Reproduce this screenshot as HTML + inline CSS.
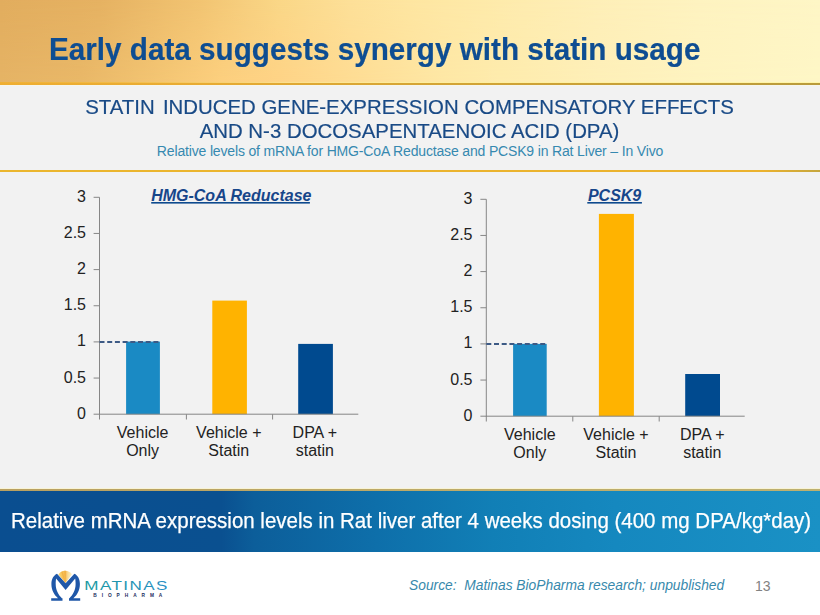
<!DOCTYPE html>
<html>
<head>
<meta charset="utf-8">
<style>
  html, body { margin: 0; padding: 0; }
  body { width: 820px; height: 615px; position: relative; overflow: hidden; background: #ffffff; font-family: "Liberation Sans", sans-serif; }
  .abs { position: absolute; }
  #header { left: 0; top: 0; width: 820px; height: 83px;
    background: linear-gradient(to right, #E2AD5E 0%, #E6B262 12.2%, #F2C472 24.4%, #FAD787 34%, #FDE098 42.7%, #FEE6A1 50%, #FEEBAC 61%, #FEEFB8 73%, #FEF3C0 85%, #FEF6C6 100%); }
  #hline { left: 0; top: 83px; width: 820px; height: 2px; background: linear-gradient(to right, #EFAE32 0%, #E8AB33 25%, #D6A535 50%, #C8A038 75%, #B99B3C 100%); }
  #hover { left: 0; top: 0; width: 820px; height: 83px; background: linear-gradient(to right, #E5B365 0%, #E9B868 10%, #F4C674 20%, #FCCF7E 27%, #FED386 34%, #FEDD95 44%, #FEE7A5 54%, #FEEBAC 61%, #FEEFB8 73%, #FEF3C0 85%, #FEF6C6 100%); -webkit-mask-image: linear-gradient(to bottom, transparent 0%, black 100%); mask-image: linear-gradient(to bottom, transparent 0%, black 100%); }
  #hglow { left: 0; top: 82px; width: 820px; height: 1px; background: linear-gradient(to right, #EFB035 0%, #F2BC4A 15%, #FBE090 35%, #FDEE9E 50%, #FFF6A8 100%); }
  #hsub { left: 0; top: 85px; width: 820px; height: 1px; background: #F6F5EC; }
  #band { left: 0; top: 85px; width: 820px; height: 404px; background: #F2F2F2; }
  #mline { left: 0; top: 170px; width: 820px; height: 2px; background: linear-gradient(to right, #EBB62E 0%, #EBB22E 93%, #C5A63E 100%); }
  #gglow { left: 0; top: 488px; width: 820px; height: 1px; background: #F8F3D6; }
  #gline { left: 0; top: 489px; width: 820px; height: 2px; background: linear-gradient(to right, #B9A060 0%, #BDAA68 50%, #BDB070 100%); }
  #bluebar { left: 0; top: 491px; width: 820px; height: 61px;
    background: linear-gradient(to right, #0A4E90 0%, #0A5090 27%, #0C5E9A 31%, #0E6FAA 46%, #117FB6 60%, #1588BF 75%, #1A91C5 100%); }
  .t { position: absolute; white-space: pre; line-height: 1; }
  #title { left: 49.3px; top: 33.8px; font-size: 30.6px; font-weight: bold; color: #0E4D92; transform: scaleX(0.97); transform-origin: 0 0; -webkit-text-stroke: 0.2px #0E4D92; }
  .sub { left: 0; width: 819px; text-align: center; color: #194A86; font-size: 21.1px; transform: scaleX(0.967); transform-origin: 409.5px 0; -webkit-text-stroke: 0.2px #194A86; }
  #sub1 { top: 95.7px; }
  #sub2 { top: 120.3px; }
  #sub3 { left: 0; width: 820px; text-align: center; top: 144.4px; font-size: 14px; letter-spacing: -0.16px; color: #3689B0; }
  #bartext { left: 10.5px; top: 510.9px; font-size: 21.3px; color: #ffffff; transform: scaleX(0.962); transform-origin: 0 0; -webkit-text-stroke: 0.25px #ffffff; }
  #source { left: 409px; top: 579.2px; font-size: 13.8px; font-style: italic; color: #3889AC; }
  #pnum { left: 755px; top: 578.6px; font-size: 14px; color: #828282; }
</style>
</head>
<body>
<div id="header" class="abs"></div>
<div id="hover" class="abs"></div>
<div id="hglow" class="abs"></div>
<div id="hline" class="abs"></div>
<div id="band" class="abs"></div>
<div id="hsub" class="abs"></div>
<div id="mline" class="abs"></div>
<div id="gglow" class="abs"></div>
<div id="gline" class="abs"></div>
<div id="bluebar" class="abs"></div>

<div id="title" class="t">Early data suggests synergy with statin usage</div>
<div id="sub1" class="t sub">STATIN<span style="display:inline-block;width:2.6px"></span> INDUCED GENE-EXPRESSION COMPENSATORY EFFECTS</div>
<div id="sub2" class="t sub">AND N-3 DOCOSAPENTAENOIC ACID (DPA)</div>
<div id="sub3" class="t">Relative levels of mRNA for HMG-CoA Reductase and PCSK9 in Rat Liver – In Vivo</div>

<svg class="abs" style="left:0;top:0" width="820" height="615" viewBox="0 0 820 615">
  <g font-family="Liberation Sans, sans-serif">
  <!-- LEFT CHART -->
  <g id="chartL">
    <text x="231.3" y="200.6" font-size="16" font-weight="bold" font-style="italic" fill="#17468A" text-anchor="middle">HMG-CoA Reductase</text>
    <rect x="151.2" y="202" width="158.7" height="1.6" fill="#0E4A8E"/>
    <g fill="#222222" font-size="16" text-anchor="end">
      <text x="86" y="418.7">0</text>
      <text x="86" y="382.6">0.5</text>
      <text x="86" y="346.4">1</text>
      <text x="86" y="310.3">1.5</text>
      <text x="86" y="274.1">2</text>
      <text x="86" y="238">2.5</text>
      <text x="86" y="201.8">3</text>
    </g>
    <rect x="126.1" y="341.6" width="33.8" height="72.6" fill="#1A8AC4"/>
    <rect x="212.3" y="300.6" width="34.6" height="113.6" fill="#FFB300"/>
    <rect x="298.2" y="343.9" width="34.7" height="70.3" fill="#004A8F"/>
    <g stroke="#868686" stroke-width="1" fill="none">
      <path d="M99.5 197.3 V414.7"/>
      <path d="M99 414.2 H358.3"/>
      <path d="M93.6 414.2 H99.5 M93.6 378.05 H99.5 M93.6 341.9 H99.5 M93.6 305.75 H99.5 M93.6 269.6 H99.5 M93.6 233.45 H99.5 M93.6 197.3 H99.5"/>
      <path d="M99.5 414.2 V419.5 M186.4 414.2 V419.5 M272.6 414.2 V419.5"/>
    </g>
    <path d="M99.5 342.1 H159.7" stroke="#3D5A85" stroke-width="2" stroke-dasharray="5 2.7" fill="none"/>
    <g fill="#222222" font-size="16" text-anchor="middle">
      <text x="142.6" y="437.8">Vehicle</text><text x="142.6" y="455.6">Only</text>
      <text x="228.8" y="437.8">Vehicle +</text><text x="228.8" y="455.6">Statin</text>
      <text x="314.9" y="437.8">DPA +</text><text x="314.9" y="455.6">statin</text>
    </g>
  </g>
  <!-- RIGHT CHART -->
  <g id="chartR">
    <text x="614.6" y="200.8" font-size="16" font-weight="bold" font-style="italic" fill="#17468A" text-anchor="middle">PCSK9</text>
    <rect x="587.3" y="202" width="54.6" height="1.6" fill="#0E4A8E"/>
    <g fill="#222222" font-size="16" text-anchor="end">
      <text x="472.5" y="420.7">0</text>
      <text x="472.5" y="384.6">0.5</text>
      <text x="472.5" y="348.4">1</text>
      <text x="472.5" y="312.3">1.5</text>
      <text x="472.5" y="276.1">2</text>
      <text x="472.5" y="240">2.5</text>
      <text x="472.5" y="203.8">3</text>
    </g>
    <rect x="513.1" y="343.9" width="33.6" height="72.3" fill="#1A8AC4"/>
    <rect x="598.9" y="213.9" width="35" height="202.3" fill="#FFB300"/>
    <rect x="685.2" y="374" width="34.8" height="42.2" fill="#004A8F"/>
    <g stroke="#868686" stroke-width="1" fill="none">
      <path d="M486.3 199.3 V416.7"/>
      <path d="M486 416.2 H744.7"/>
      <path d="M480.4 416.2 H486.3 M480.4 380.05 H486.3 M480.4 343.9 H486.3 M480.4 307.75 H486.3 M480.4 271.6 H486.3 M480.4 235.45 H486.3 M480.4 199.3 H486.3"/>
      <path d="M486.3 416.2 V421.5 M572.8 416.2 V421.5 M659.2 416.2 V421.5"/>
    </g>
    <path d="M486.3 344.1 H546.7" stroke="#3D5A85" stroke-width="2" stroke-dasharray="5 2.7" fill="none"/>
    <g fill="#222222" font-size="16" text-anchor="middle">
      <text x="529.8" y="440.1">Vehicle</text><text x="529.8" y="457.9">Only</text>
      <text x="616" y="440.1">Vehicle +</text><text x="616" y="457.9">Statin</text>
      <text x="702.3" y="440.1">DPA +</text><text x="702.3" y="457.9">statin</text>
    </g>
  </g>
  </g>
</svg>

<div id="bartext" class="t">Relative mRNA expression levels in Rat liver after 4 weeks dosing (400 mg DPA/kg*day)</div>

<!-- LOGO -->
<svg class="abs" style="left:48px;top:566px" width="125" height="40" viewBox="0 0 125 40">
  <defs>
    <linearGradient id="fang" x1="0" x2="1" y1="0" y2="0">
      <stop offset="0" stop-color="#F8D878"/>
      <stop offset="0.3" stop-color="#F6C258"/>
      <stop offset="0.5" stop-color="#F5B84E"/>
      <stop offset="0.7" stop-color="#F9DC98"/>
      <stop offset="1" stop-color="#FDF2CC"/>
    </linearGradient>
    <linearGradient id="mg" x1="0" x2="1" y1="0" y2="0">
      <stop offset="0" stop-color="#1C9AA0"/>
      <stop offset="1" stop-color="#2A8EC4"/>
    </linearGradient>
  </defs>
  <path d="M17.4 16.9 L10.4 8.6 C11.5 6.6 13.5 5.2 16.2 4.8 C19.5 4.5 22.3 5.8 24 8.2 Z" fill="url(#fang)"/>
  <path d="M17.4 16.9 L13.2 5.9 L14.6 5.3 Z M17.4 16.9 L16.4 4.8 L17.9 4.8 Z" fill="#F2A838" opacity="0.6"/>
  <path d="M9 7.8 L17.6 17.3 L26.4 7.8 C29.4 9.2 31.9 12.5 31.9 18 C31.9 24 29.4 28.8 25.4 32.2 L32.2 32.2 L32.2 34.8 L21 34.8 L21 32.2 L21.4 32.2 C24.9 28.8 27.6 24 27.6 18 C27.6 15.5 27.4 13.8 27.2 12.4 L17.6 24 L8.1 12.4 C7.9 13.8 7.7 15.5 7.7 18 C7.7 24 10.4 28.8 13.9 32.2 L14.5 32.2 L14.5 34.8 L3.2 34.8 L3.2 32.2 L10 32.2 C6 28.8 3.4 24 3.4 18 C3.4 12.5 6 9.2 9 7.8 Z" fill="#1F57A8"/>
  <text x="36.3" y="23.7" font-family="Liberation Sans, sans-serif" font-size="12" fill="url(#mg)" textLength="84.5" lengthAdjust="spacingAndGlyphs" letter-spacing="1">MATINAS</text>
  <text x="45.3" y="30.9" font-family="Liberation Sans, sans-serif" font-size="4.8" font-weight="bold" fill="#222C5E" textLength="69" lengthAdjust="spacing">BIOPHARMA</text>
</svg>

<div id="source" class="t">Source:  Matinas BioPharma research; unpublished</div>
<div id="pnum" class="t">13</div>
</body>
</html>
